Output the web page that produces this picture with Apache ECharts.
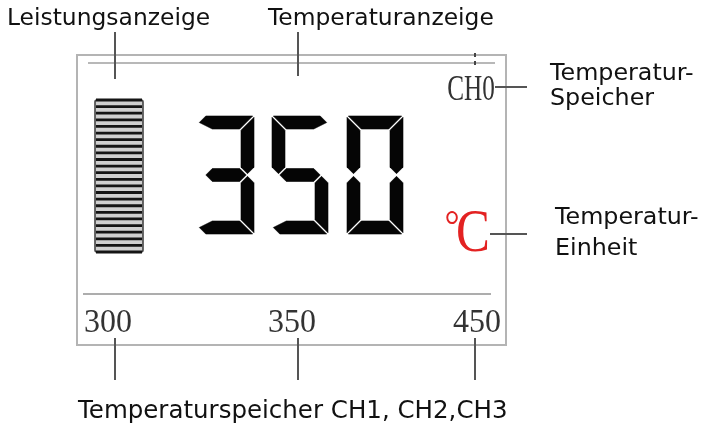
<!DOCTYPE html>
<html>
<head>
<meta charset="utf-8">
<title>LCD Anzeige</title>
<script src="https://cdn.jsdelivr.net/npm/echarts@6/dist/echarts.min.js"></script>
<style>
html, body { margin: 0; padding: 0; background: #fff; }
#lcdChart { width: 708px; height: 425px; }
</style>
</head>
<body>
<div id="lcdChart"></div>
<script>
// Anzeige-Inhalt
var displayDigits = ['3', '5', '0'];
var unitText = ['°', 'C'];
var memoryChannel = 'CH0';
var channelValues = ['300', '350', '450'];
var powerSegments = 23;

// Beschriftungen
var topLabels = ['Leistungsanzeige', 'Temperaturanzeige'];
var memoryLabel = ['Temperatur-', 'Speicher'];
var unitLabel = ['Temperatur-', 'Einheit'];
var bottomLabel = 'Temperaturspeicher CH1, CH2,CH3';

// welche Segmente pro Ziffer leuchten
var segMap = {
  '0': 'abcdef', '1': 'bc', '2': 'abged', '3': 'abcdg', '4': 'fgbc',
  '5': 'afgcd', '6': 'afgedc', '7': 'abc', '8': 'abcdefg', '9': 'abcdfg'
};

var SANS = '"DejaVu Sans", Verdana, sans-serif';
var SERIF = '"Liberation Serif", "Times New Roman", serif';

function shift(pts, dx, dy) {
  return pts.map(function (p) { return [p[0] + dx, p[1] + dy]; });
}

// Polygon eines Segments: Gehrung an Ecken mit Nachbar, sonst Spitze
function segPoints(s, on, W, H, t, g) {
  var h2 = H / 2;
  var has = function (c) { return on.indexOf(c) >= 0; };
  var L, R;
  switch (s) {
    case 'a':
      L = has('f') ? [[t + g, t], [g, 0]] : [[t + g, t], [g, t / 2], [t / 2 + g, 0]];
      R = has('b') ? [[W - g, 0], [W - t - g, t]] : [[W - t / 2 - g, 0], [W - g, t / 2], [W - t - g, t]];
      return L.concat(R);
    case 'd':
      L = has('e') ? [[g, H], [t + g, H - t]] : [[t / 2 + g, H], [g, H - t / 2], [t + g, H - t]];
      R = has('c') ? [[W - t - g, H - t], [W - g, H]] : [[W - t - g, H - t], [W - g, H - t / 2], [W - t / 2 - g, H]];
      return L.concat(R);
    case 'g': return [[t / 2 + g, h2], [t + g, h2 - t / 2], [W - t - g, h2 - t / 2], [W - t / 2 - g, h2], [W - t - g, h2 + t / 2], [t + g, h2 + t / 2]];
    case 'f': return [[0, g], [t, t + g], [t, h2 - t / 2 - g], [t / 2, h2 - g], [0, h2 - t / 2 - g]];
    case 'e': return [[0, h2 + t / 2 + g], [t / 2, h2 + g], [t, h2 + t / 2 + g], [t, H - t - g], [0, H - g]];
    case 'b': return [[W, g], [W, h2 - t / 2 - g], [W - t / 2, h2 - g], [W - t, h2 - t / 2 - g], [W - t, t + g]];
    case 'c': return [[W - t, h2 + t / 2 + g], [W - t / 2, h2 + g], [W, h2 + t / 2 + g], [W, H - g], [W - t, H - t - g]];
  }
}

var graphics = [];

// Rahmen des Displays
graphics.push({
  type: 'rect', shape: { x: 77, y: 55, width: 429, height: 290 },
  style: { fill: '#fff', stroke: '#b4b4b4', lineWidth: 2 }
});
graphics.push({ type: 'line', shape: { x1: 88, y1: 63, x2: 495, y2: 63 }, style: { stroke: '#a0a0a0', lineWidth: 1.5 } });
graphics.push({ type: 'line', shape: { x1: 83, y1: 294, x2: 491, y2: 294 }, style: { stroke: '#adadad', lineWidth: 2 } });
graphics.push({ type: 'line', shape: { x1: 475, y1: 53, x2: 475, y2: 57 }, style: { stroke: '#444', lineWidth: 2 } });
graphics.push({ type: 'line', shape: { x1: 475, y1: 61, x2: 475, y2: 65 }, style: { stroke: '#444', lineWidth: 2 } });

// Leistungsbalken
var barX = 95, barY = 100, barW = 48, barH = 152;
graphics.push({
  type: 'rect', shape: { x: barX, y: barY, width: barW, height: barH, r: 2 },
  style: { fill: '#d0d0d0', stroke: '#444', lineWidth: 1.6 }
});
for (var i = 0; i <= powerSegments; i++) {
  var yy = barY + i * barH / powerSegments;
  graphics.push({
    type: 'line', shape: { x1: barX + 1, y1: yy, x2: barX + barW - 1, y2: yy },
    style: { stroke: '#151515', lineWidth: 2.8 }
  });
}

// 7-Segment Ziffern
var digitLeft = [198, 272, 347];
displayDigits.forEach(function (d, k) {
  var on = segMap[d];
  on.split('').forEach(function (s) {
    graphics.push({
      type: 'polygon',
      shape: { points: shift(segPoints(s, on, 56, 118, 13, 1.3), digitLeft[k], 116) },
      style: { fill: '#050505', stroke: '#050505', lineWidth: 0.6, lineJoin: 'round' }
    });
  });
});

// Speicher und Einheit
graphics.push({
  type: 'text', x: 471, y: 91, scaleX: 0.72,
  style: { text: memoryChannel, font: '35px ' + SERIF, fill: '#333', align: 'center', verticalAlign: 'middle' }
});
graphics.push({
  type: 'text', x: 452, y: 228, scaleX: 0.9,
  style: { text: unitText[0], font: '42px ' + SERIF, fill: '#e32222', align: 'center', verticalAlign: 'middle' }
});
graphics.push({
  type: 'text', x: 473, y: 235, scaleX: 0.82,
  style: { text: unitText[1], font: '62px ' + SERIF, fill: '#e32222', align: 'center', verticalAlign: 'middle' }
});

// Kanal-Werte unten
var chanX = [108, 292, 477];
channelValues.forEach(function (v, k) {
  graphics.push({
    type: 'text', x: chanX[k], y: 323, scaleX: 0.94,
    style: { text: v, font: '34px ' + SERIF, fill: '#333', align: 'center', verticalAlign: 'middle' }
  });
});

// Hinweislinien
var leaders = [
  [115, 32, 115, 79], [298, 32, 298, 76],
  [495, 87, 527, 87], [490, 234, 527, 234],
  [115, 338, 115, 380], [298, 338, 298, 380], [475, 338, 475, 380]
];
leaders.forEach(function (l) {
  graphics.push({ type: 'line', shape: { x1: l[0], y1: l[1], x2: l[2], y2: l[3] }, style: { stroke: '#555', lineWidth: 2 } });
});

// Beschriftungen
function label(txt, x, y, size) {
  graphics.push({
    type: 'text', x: x, y: y,
    style: { text: txt, font: size + 'px ' + SANS, fill: '#111', align: 'left', verticalAlign: 'middle' }
  });
}
label(topLabels[0], 7, 19, 23.4);
label(topLabels[1], 268, 19, 23.4);
label(memoryLabel[0], 550, 73.5, 23.8);
label(memoryLabel[1], 550, 99, 23.8);
label(unitLabel[0], 555, 217.5, 23.8);
label(unitLabel[1], 555, 249, 23.8);
label(bottomLabel, 78, 412, 24.5);

var lcdChart = echarts.init(document.getElementById('lcdChart'));
lcdChart.setOption({
  backgroundColor: '#fff',
  animation: false,
  graphic: { elements: graphics }
});
</script>
</body>
</html>
